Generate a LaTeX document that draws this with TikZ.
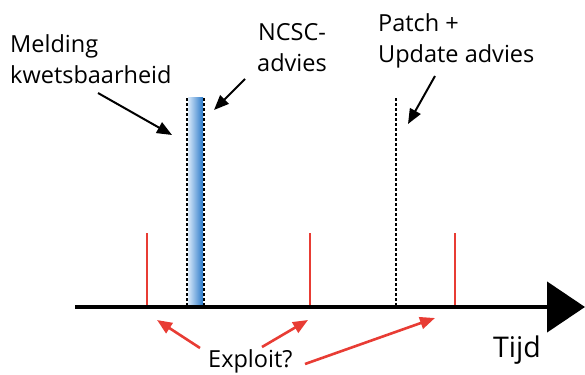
\documentclass[tikz,border=0pt]{standalone}
\usepackage{fontspec}
\setmainfont{Open Sans}
\usetikzlibrary{positioning}
\usetikzlibrary{arrows.meta}
\definecolor{exploitred}{RGB}{232,60,52}
\definecolor{ncscblue}{RGB}{40,120,200}
\definecolor{ncsclight}{RGB}{215,232,250}

\begin{document}
\begin{tikzpicture}[x=1pt,y=-1pt]
 \tikzset{label text/.style={
 		font=\fontsize{23.5}{31}\selectfont,
 		inner sep=0pt,
 		align=left
 	},
 	pointer/.style={
 		-{Triangle[length=15pt,width=12pt]},
 		line width=2pt
 	},
 	exploit pointer/.style={pointer, exploitred, line width=2.6pt},
 	tick/.style={exploitred, line width=2.6pt},
 	marker line/.style={black, line width=1.6pt, dash pattern=on 3pt off 2pt}
 }
 \useasboundingbox (0,0) rectangle (585,374);
 %% time axis
 \coordinate (start) at (75,307);
 \coordinate (end) at (585,307);
 %% moments on the axis
 \coordinate (t1) at (147,307);
 \coordinate (t2) at (310,307);
 \coordinate (t3) at (455,307);
 \coordinate (t1 top) at (147,233);
 \coordinate (t2 top) at (310,233);
 \coordinate (t3 top) at (455,233);
 \coordinate (melding) at (187,306);
 \coordinate (melding top) at (187,98);
 \coordinate (advies) at (204,306);
 \coordinate (advies top) at (204,98);
 \coordinate (patch) at (396,306);
 \coordinate (patch top) at (396,98);
 % blue band between melding and advies
 \shade[left color=ncsclight, right color=ncscblue] (188,98) rectangle (203,306);
 \draw[marker line] (melding) -- (melding top);
 \draw[marker line] (advies) -- (advies top);
 \draw[marker line] (patch) -- (patch top);
 \draw[tick] (t1) -- (t1 top);
 \draw[tick] (t2) -- (t2 top);
 \draw[tick] (t3) -- (t3 top);
 \draw[line width=4.5pt, -{Triangle[length=38pt,width=50pt]}] (start) -- (end);
 %% labels
 \node[label text, anchor=base west] (melding text) at (10,84) {Melding\\kwetsbaarheid};
 \node[label text, anchor=base, align=center] (ncsc text) at (292,72) {NCSC-\\advies};
 \node[label text, anchor=base west] (patch text) at (378,63) {Patch +\\Update advies};
 \node[label text, anchor=base west] (exploit text) at (208,367) {Exploit?};
 \node[label text, anchor=base west, font=\fontsize{28.5}{34}\selectfont] (tijd) at (493,357) {Tijd};
 %% pointers
 \coordinate (melding tip) at (172,135);
 \coordinate (ncsc tip) at (214,110);
 \coordinate (patch tip) at (408,124);
 \draw[pointer] (98,93) -- (melding tip);
 \draw[pointer] (245,79) -- (ncsc tip);
 \draw[pointer] (435,76) -- (patch tip);
 \coordinate (e1) at (157,320);
 \coordinate (e2) at (308,320);
 \coordinate (e3) at (435,318);
 \draw[exploit pointer] (200,348) -- (e1);
 \draw[exploit pointer] (262,347) -- (e2);
 \draw[exploit pointer] (305,364) -- (e3);
\end{tikzpicture}
\end{document}
